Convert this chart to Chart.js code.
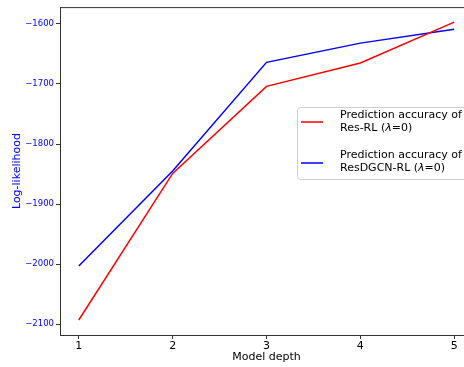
<!DOCTYPE html>
<html>
<head>
<meta charset="utf-8">
<script src="https://cdn.jsdelivr.net/npm/chart.js"></script>
<style>
  html, body { margin: 0; padding: 0; background: #fff; overflow: hidden; }
  #wrap { width: 464px; height: 367px; overflow: hidden; }
</style>
</head>
<body>
<div id="wrap"><canvas id="chart" width="480" height="367"></canvas></div>
<script>
// model depth on x
const depths = [1, 2, 3, 4, 5];
// log-likelihood
const resRL = [-2093, -1849, -1704, -1665, -1597];
const resDGCN = [-2003, -1845, -1664, -1632, -1609];
const yTicks = [-2100, -2000, -1900, -1800, -1700, -1600];

const FONT = 'DejaVu Sans';

// legend box + top spine drawn by hand, matplotlib style
const extras = {
    id: 'extras',
    afterDraw(chart) {
        const ctx = chart.ctx;
        const a = chart.chartArea;
        ctx.save();
        ctx.strokeStyle = '#333';
        ctx.lineWidth = 1;
        ctx.beginPath();
        ctx.moveTo(a.left, a.top + 0.5);
        ctx.lineTo(a.right, a.top + 0.5);
        ctx.stroke();

        // legend
        const bx = 297, by = 107, bw = 190, bh = 72;
        ctx.fillStyle = 'rgba(255,255,255,0.85)';
        ctx.strokeStyle = '#d0d0d0';
        ctx.beginPath();
        ctx.roundRect(bx + 0.5, by + 0.5, bw, bh, 3);
        ctx.fill();
        ctx.stroke();

        const items = [
            { color: 'red', name: 'Res-RL', lineY: 122, t1: 115, t2: 128 },
            { color: 'blue', name: 'ResDGCN-RL', lineY: 163, t1: 155, t2: 168 }
        ];
        items.forEach(it => {
            ctx.strokeStyle = it.color;
            ctx.lineWidth = 1.5;
            ctx.beginPath();
            ctx.moveTo(301, it.lineY);
            ctx.lineTo(323, it.lineY);
            ctx.stroke();

            ctx.fillStyle = '#000';
            ctx.textBaseline = 'middle';
            ctx.textAlign = 'left';
            ctx.font = '11px "' + FONT + '"';
            ctx.fillText('Prediction accuracy of', 340, it.t1);
            let x = 340;
            const p1 = it.name + ' (';
            ctx.fillText(p1, x, it.t2);
            x += ctx.measureText(p1).width;
            ctx.font = 'italic 11px "' + FONT + '"';
            ctx.fillText('λ', x, it.t2);
            x += ctx.measureText('λ').width;
            ctx.font = '11px "' + FONT + '"';
            ctx.fillText('=0)', x, it.t2);
        });
        ctx.restore();
    }
};

new Chart(document.getElementById('chart'), {
    type: 'line',
    data: {
        datasets: [
            {
                label: 'Prediction accuracy of Res-RL (λ=0)',
                data: depths.map((d, i) => ({ x: d, y: resRL[i] })),
                borderColor: 'red',
                borderWidth: 1.5,
                pointRadius: 0,
                fill: false
            },
            {
                label: 'Prediction accuracy of ResDGCN-RL (λ=0)',
                data: depths.map((d, i) => ({ x: d, y: resDGCN[i] })),
                borderColor: 'blue',
                borderWidth: 1.5,
                pointRadius: 0,
                fill: false
            }
        ]
    },
    options: {
        responsive: false,
        animation: false,
        layout: { padding: { top: 7, right: 7, left: 0, bottom: 0 } },
        plugins: {
            legend: { display: false },
            tooltip: { enabled: false }
        },
        scales: {
            x: {
                type: 'linear',
                min: 0.8,
                max: 5.2,
                afterFit(s) { s.height = 32; },
                afterBuildTicks(s) { s.ticks = depths.map(v => ({ value: v })); },
                grid: { drawOnChartArea: false, tickLength: 4, color: '#333' },
                border: { color: '#333', width: 1 },
                ticks: {
                    color: '#000',
                    padding: 1,
                    font: { family: FONT, size: 11 },
                    maxRotation: 0
                },
                title: {
                    display: true,
                    text: 'Model depth',
                    color: '#000',
                    font: { family: FONT, size: 11 },
                    padding: { top: 0, bottom: 3 }
                }
            },
            y: {
                min: -2118,
                max: -1572,
                afterFit(s) { s.width = 60; },
                afterBuildTicks(s) { s.ticks = yTicks.map(v => ({ value: v })); },
                grid: { drawOnChartArea: false, tickLength: 4, color: '#333' },
                border: { color: '#333', width: 1 },
                ticks: {
                    color: 'blue',
                    padding: 2,
                    font: { family: FONT, size: 8.5 },
                    callback: v => String(v).replace('-', '\u2212')
                },
                title: {
                    display: true,
                    text: 'Log-likelihood',
                    color: 'blue',
                    font: { family: FONT, size: 11 },
                    padding: { top: 11, bottom: 0 }
                }
            }
        }
    },
    plugins: [extras]
});
</script>
</body>
</html>
